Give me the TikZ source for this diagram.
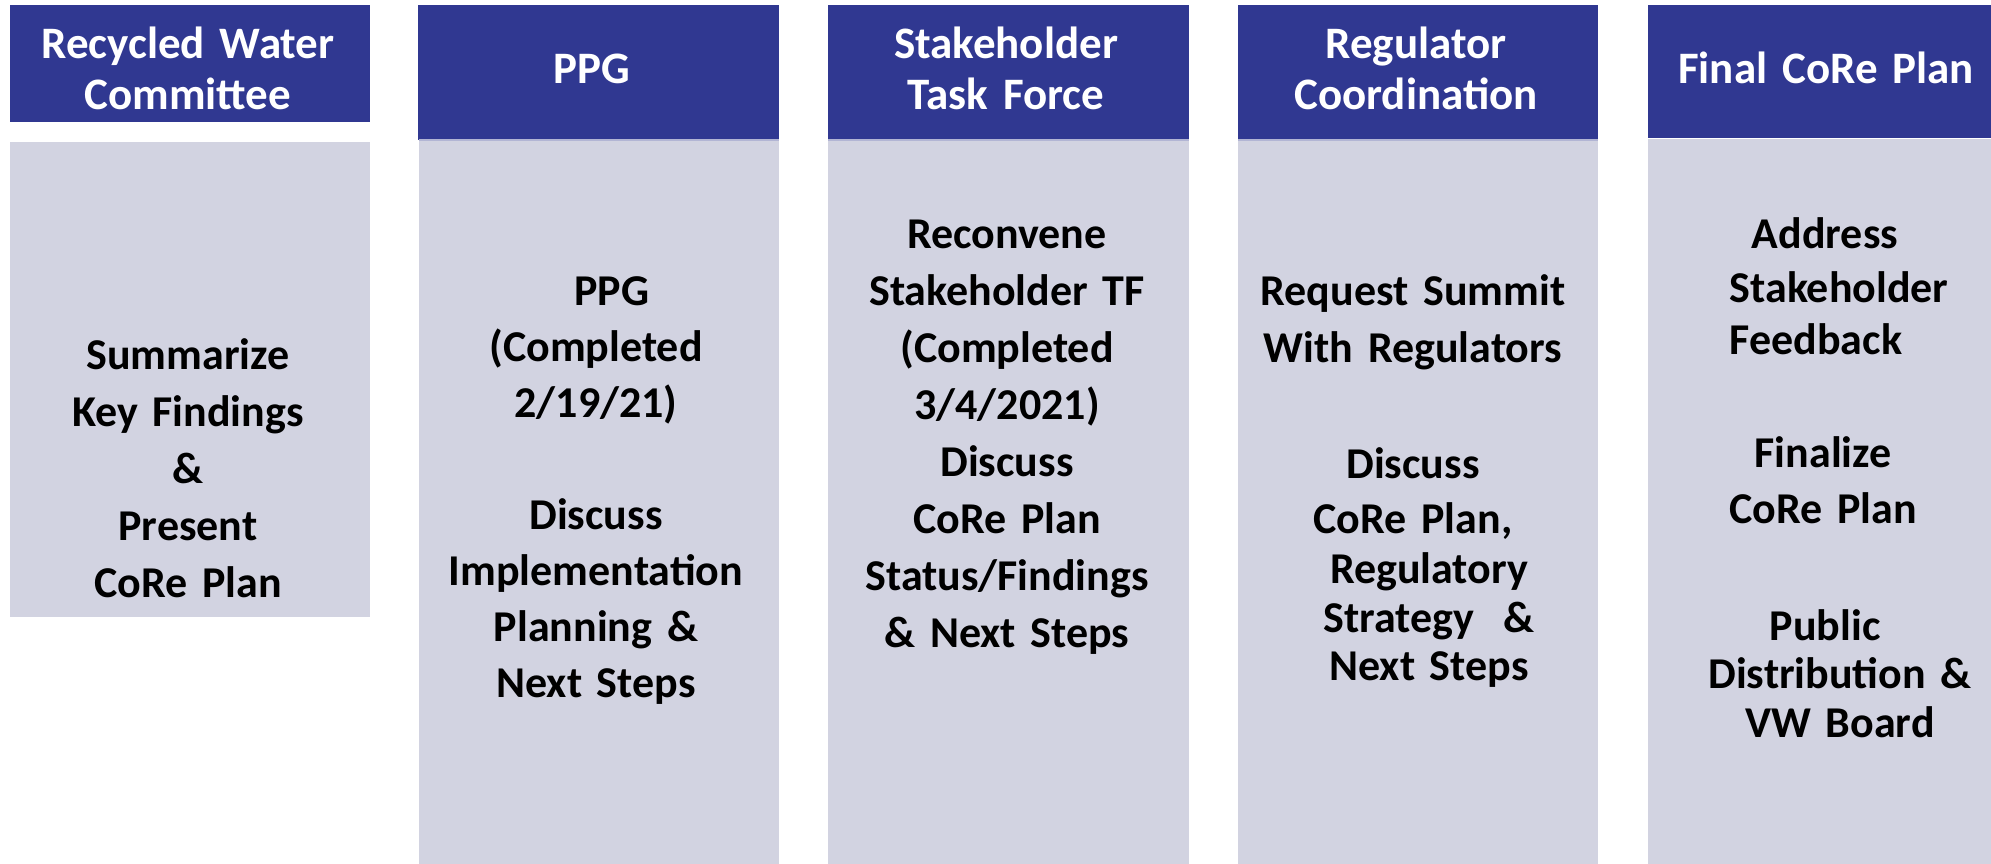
\documentclass[tikz,border=0pt]{standalone}
\usepackage{fontspec}
\setmainfont{Carlito}
\definecolor{hdr}{RGB}{48,56,145}
\definecolor{bdy}{RGB}{210,211,225}
\definecolor{sepline}{RGB}{178,181,212}
\newcommand{\padw}[1]{\rule{#1}{0pt}}
\tikzset{
  hdrtext/.style={text=white, font=\bfseries\fontsize{45}{51}\selectfont, align=center, text width=380pt, inner sep=0pt, anchor=base},
  bodytext/.style={text=black, font=\bfseries\fontsize{44}{57}\selectfont, align=center, text width=400pt, inner sep=0pt, anchor=base}
}
\begin{document}
\begin{tikzpicture}[x=1pt,y=-1pt]
\useasboundingbox (0,0) rectangle (1991,864);
% column 1
\fill[hdr] (10,5) rectangle (370,122);
\fill[bdy] (10,142) rectangle (370,617);
% column 2
\fill[hdr] (418,5) rectangle (779,140);
\fill[bdy] (419,141) rectangle (779,864);
\fill[sepline] (419,139.5) rectangle (779,141.5);
% column 3
\fill[hdr] (828,5) rectangle (1189,140);
\fill[bdy] (828,141) rectangle (1189,864);
\fill[sepline] (828,139.5) rectangle (1189,141.5);
% column 4
\fill[hdr] (1238,5) rectangle (1598,140);
\fill[bdy] (1238,141) rectangle (1598,864);
\fill[sepline] (1238,139.5) rectangle (1598,141.5);
% column 5
\fill[hdr] (1648,5) rectangle (1991,138);
\fill[bdy] (1648,139) rectangle (1991,864);

% headers
\node[hdrtext] (h1) at (188,59) {Recycled Water\\Committee};
\node[hdrtext] (h2) at (592,84) {PPG};
\node[hdrtext] (h3) at (1006,59) {Stakeholder\\Task Force};
\node[hdrtext] (h4) at (1416,59) {Regulator\\Coordination};
\node[hdrtext] (h5) at (1826,84) {Final CoRe Plan};

% bodies
\node[bodytext] (b1) at (188,369) {Summarize\\Key Findings\\\&\\Present\\CoRe Plan};
\node[bodytext] (b2) at (596,305) {\padw{32pt}PPG\\[-1pt](Completed\\[-1pt]2/19/21)\\[55pt]Discuss\\[-1pt]Implementation\\[-1pt]Planning \&\\[-1pt]Next Steps};
\node[bodytext] (b3) at (1007,248) {Reconvene\\Stakeholder TF\\(Completed\\3/4/2021)\\Discuss\\CoRe Plan\\Status/Findings\\\& Next Steps};
\node[bodytext] (b4) at (1413,305) {Request Summit\\With Regulators\\[59pt]Discuss\\[-2pt]CoRe Plan,\\[-7pt]\padw{32pt}Regulatory\\[-8pt]\padw{32pt}Strategy\ \ \&\\[-9pt]\padw{32pt}Next Steps};
\node[bodytext] (b5) at (1823,248) {\padw{4pt}Address\\[-3pt]\padw{32pt}Stakeholder\\[-5pt]Feedback\padw{14pt}\\[56pt]Finalize\\[-1pt]CoRe Plan\\[60pt]\padw{4pt}Public\\[-9pt]\padw{34pt}Distribution \&\\[-8pt]\padw{34pt}VW Board};
\end{tikzpicture}
\end{document}
